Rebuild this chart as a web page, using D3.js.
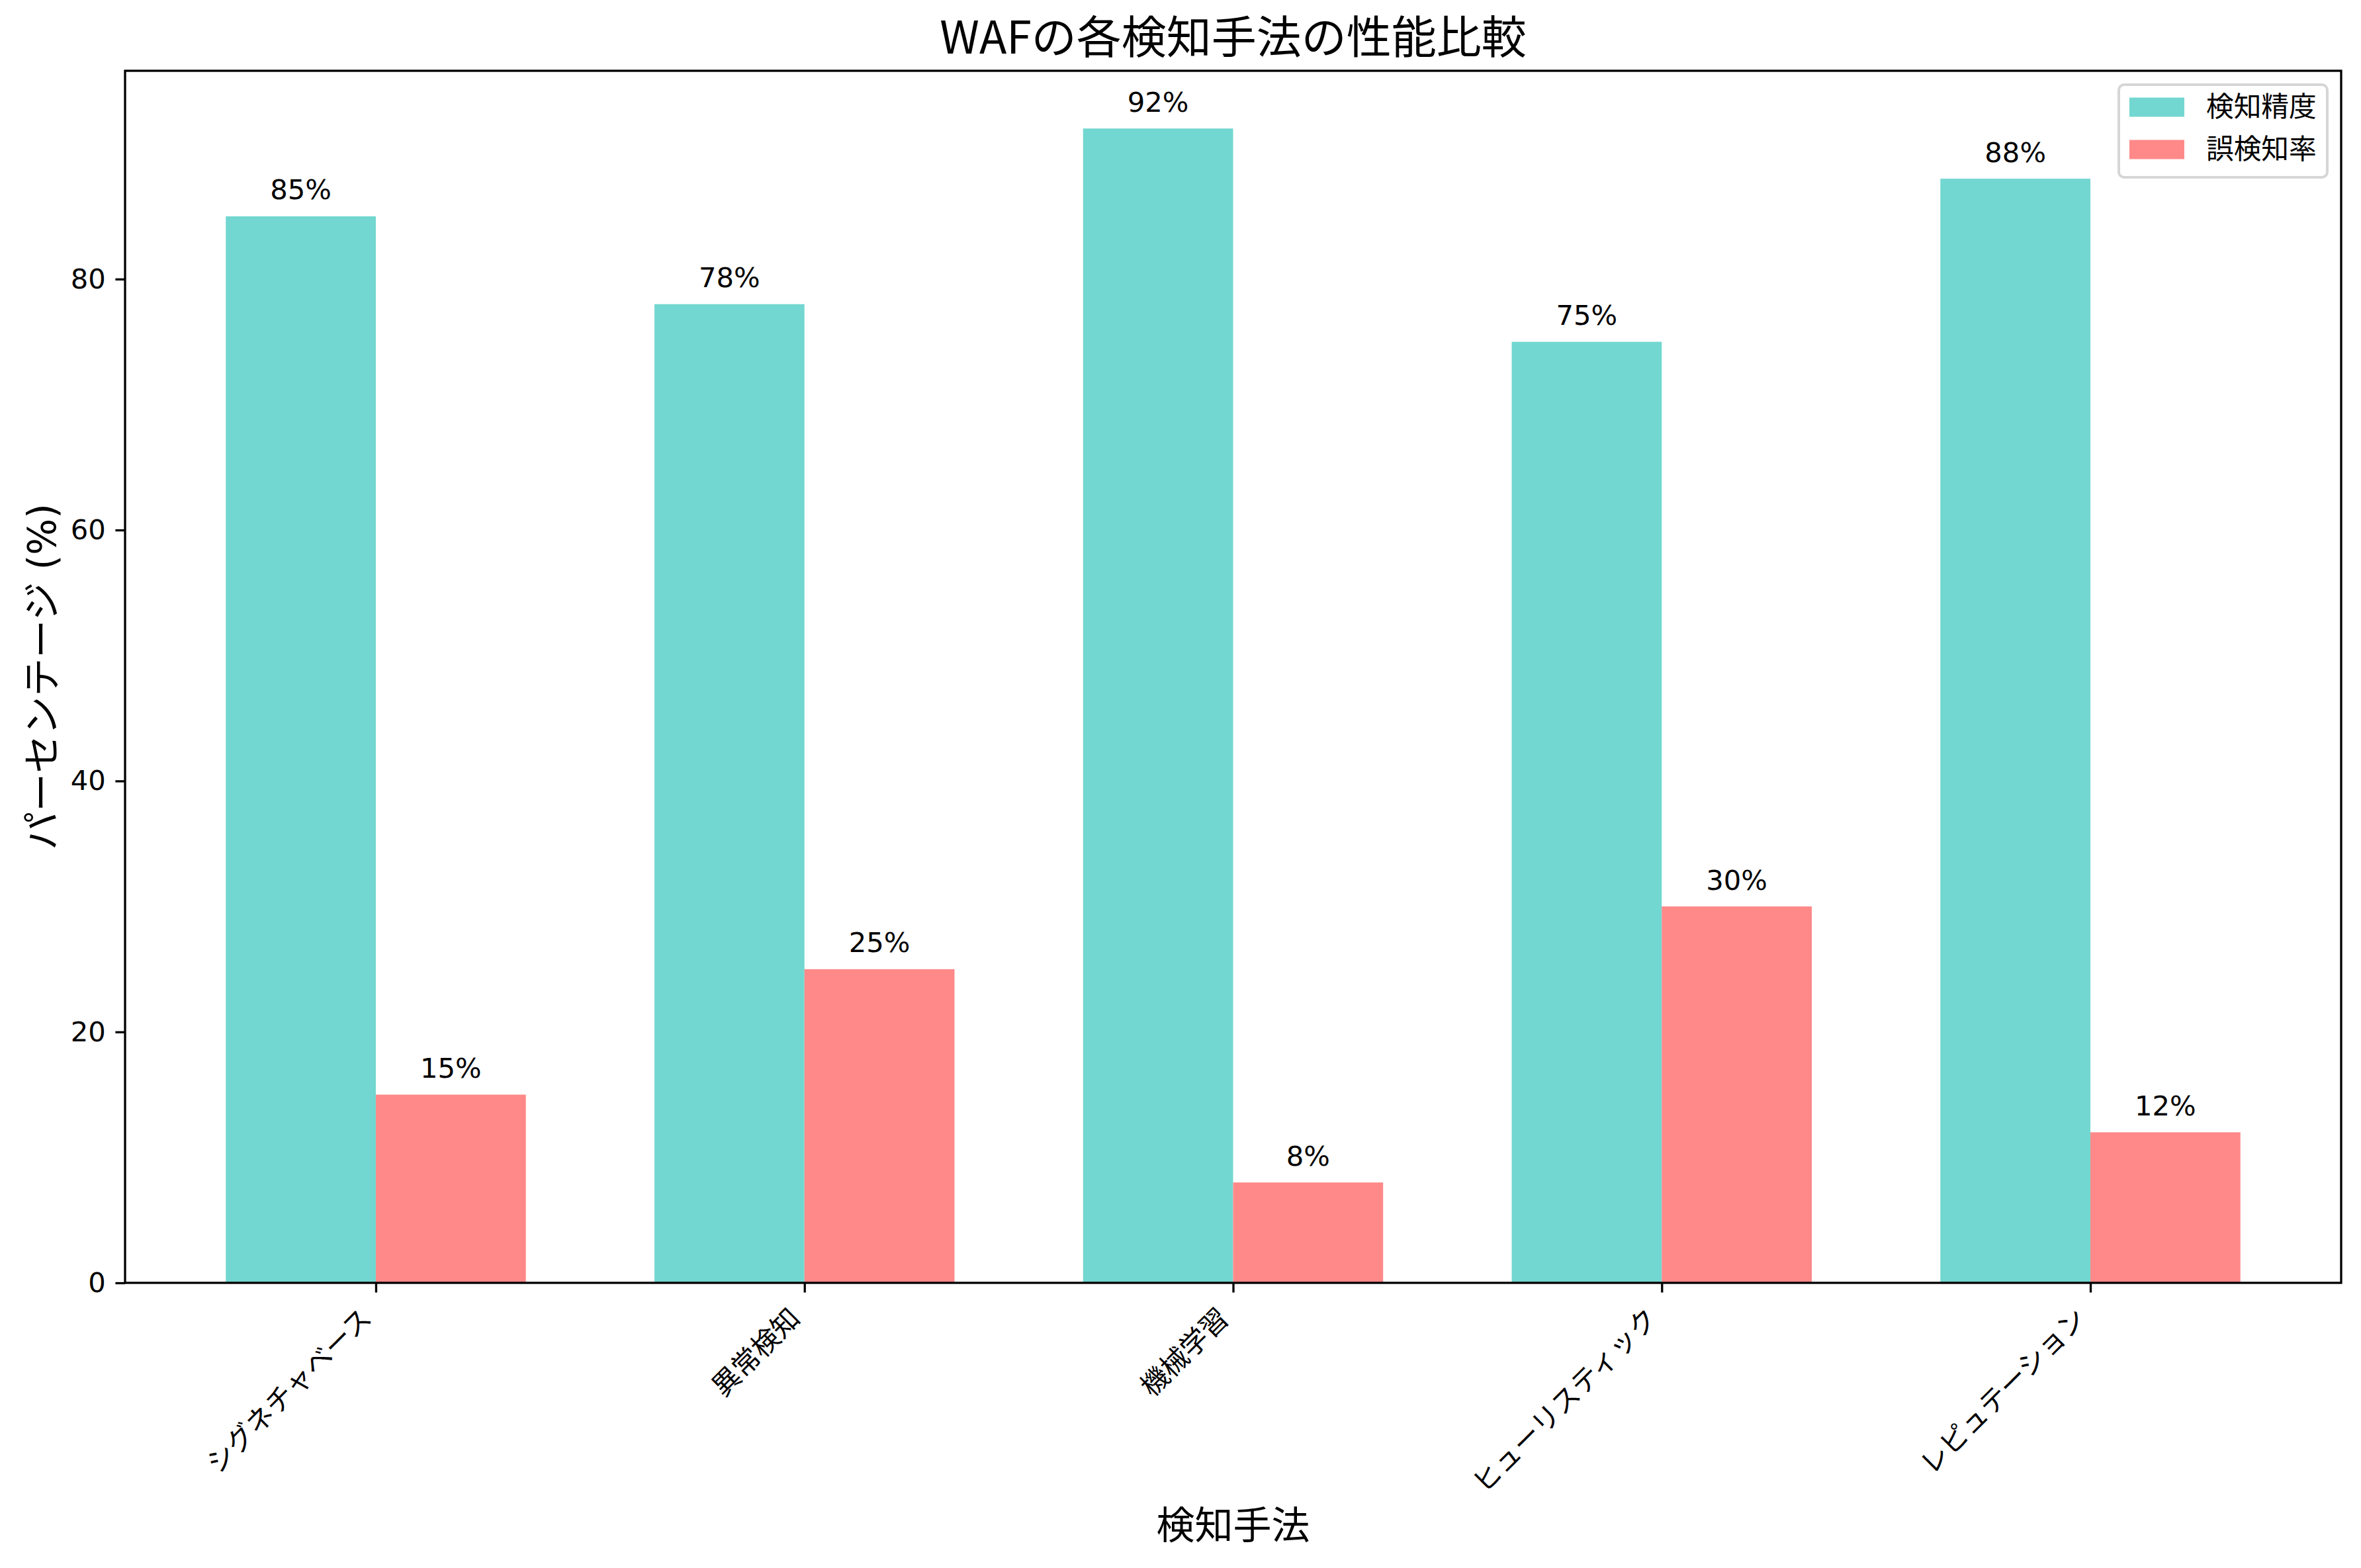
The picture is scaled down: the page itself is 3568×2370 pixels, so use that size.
<!DOCTYPE html>
<html><head><meta charset="utf-8">
<script src="https://cdn.jsdelivr.net/npm/d3@7"></script>
<style>body{margin:0;background:#fff}</style>
</head><body>
<script>
const categories = ["シグネチャベース","異常検知","機械学習","ヒューリスティック","レピュテーション"];
const accuracy = [85, 78, 92, 75, 88];
const falsePositive = [15, 25, 8, 30, 12];
const seriesNames = ["検知精度","誤検知率"];
const yTicks = [0, 20, 40, 60, 80];

const W = 3568, H = 2370;
const FONT = "'DejaVu Sans','Noto Sans CJK JP',sans-serif";
const colors = ["#72d7d0", "#ff8989"];
const m = {left: 189, right: 3538, top: 107, bottom: 1939};
const svg = d3.select("body").append("svg").attr("width", W).attr("height", H)
  .style("font-family", FONT);
svg.append("rect").attr("width", W).attr("height", H).attr("fill", "#fff");

const barW = 0.35;
const x = d3.scaleLinear().domain([-0.585, categories.length - 1 + 0.585]).range([m.left, m.right]);
const y = d3.scaleLinear().domain([0, 96.6]).range([m.bottom, m.top]);

const series = [accuracy, falsePositive];
const g = svg.append("g");
series.forEach((vals, si) => {
  const off = si === 0 ? -barW/2 : barW/2;
  g.selectAll(null).data(vals).enter().append("rect")
    .attr("x", (d,i) => x(i + off - barW/2))
    .attr("width", (d,i) => x(i + off + barW/2) - x(i + off - barW/2))
    .attr("y", d => y(d))
    .attr("height", d => y(0) - y(d))
    .attr("fill", colors[si]);
  g.selectAll(null).data(vals).enter().append("text")
    .attr("x", (d,i) => x(i + off))
    .attr("y", d => y(d) - 12.5 - 13)
    .attr("text-anchor", "middle")
    .attr("font-size", 41.7)
    .text(d => d + "%");
});

// axes
const yAxis = d3.axisLeft(y).tickValues(yTicks).tickSize(14.6).tickPadding(14.6);
const ya = svg.append("g").attr("transform", `translate(${m.left},0)`).call(yAxis);
ya.select(".domain").remove();
ya.selectAll("line").attr("stroke", "#000").attr("stroke-width", 3.3);
ya.selectAll("text").attr("font-size", 41.7).attr("font-family", FONT).attr("fill", "#000");

const xAxis = d3.axisBottom(x).tickValues(d3.range(categories.length)).tickSize(14.6).tickFormat(() => "");
const xa = svg.append("g").attr("transform", `translate(0,${m.bottom})`).call(xAxis);
xa.select(".domain").remove();
xa.selectAll("line").attr("stroke", "#000").attr("stroke-width", 3.3);
const tlY = m.bottom + 29.2;
svg.append("g").selectAll("text").data(categories).enter().append("text")
  .attr("transform", (d,i) => `translate(${x(i) - 4},${tlY + 27}) rotate(-45)`)
  .attr("text-anchor", "end")
  .attr("font-size", 41.7)
  .text(d => d);

// frame
svg.append("rect").attr("x", m.left).attr("y", m.top)
  .attr("width", m.right - m.left).attr("height", m.bottom - m.top)
  .attr("fill", "none").attr("stroke", "#000").attr("stroke-width", 3.3);

// title & labels
svg.append("text").attr("x", (m.left + m.right)/2).attr("y", 81)
  .attr("text-anchor", "middle").attr("font-size", 68)
  .style("font-family", "'Noto Sans CJK JP','DejaVu Sans',sans-serif")
  .text("WAFの各検知手法の性能比較");
svg.append("text").attr("x", (m.left + m.right)/2).attr("y", 2326)
  .attr("text-anchor", "middle").attr("font-size", 58).text("検知手法");
svg.append("text").attr("transform", `translate(84,${(m.top + m.bottom)/2}) rotate(-90)`)
  .attr("text-anchor", "middle").attr("font-size", 58).text("パーセンテージ (%)");

// legend
const lg = svg.append("g");
lg.append("rect").attr("x", 3202).attr("y", 128).attr("width", 315).attr("height", 140)
  .attr("rx", 8).attr("fill", "#fff").attr("fill-opacity", 0.8)
  .attr("stroke", "#d6d6d6").attr("stroke-width", 4);
seriesNames.forEach((n, i) => {
  const cy = 162 + i * 64;
  lg.append("rect").attr("x", 3218).attr("y", cy - 14.5).attr("width", 83).attr("height", 29).attr("fill", colors[i]);
  lg.append("text").attr("x", 3334).attr("y", cy + 14).attr("font-size", 41.7).text(n);
});
</script>
</body></html>
